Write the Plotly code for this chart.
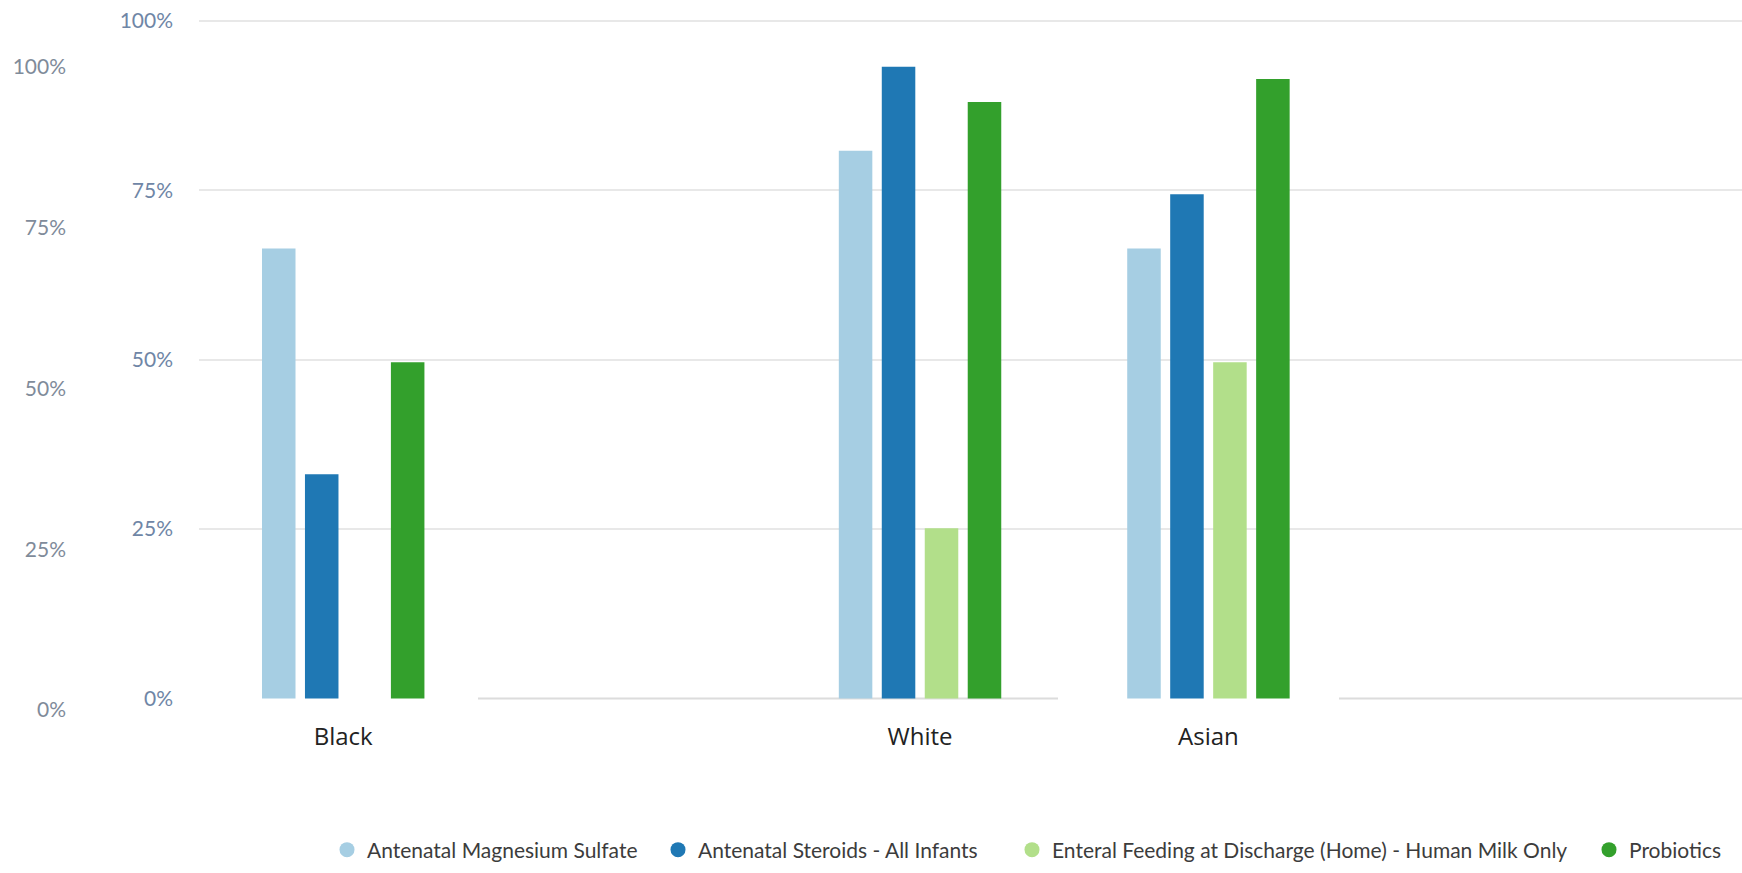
import plotly.graph_objects as go

# ---- data ----
categories = ["Black", " ", "White", "Asian"]
series_names = [
    "Antenatal Magnesium Sulfate",
    "Antenatal Steroids - All Infants",
    "Enteral Feeding at Discharge (Home) - Human Milk Only",
    "Probiotics",
]
mag_sulfate = [66.4, None, 80.8, 66.4]
steroids = [33.1, None, 93.2, 74.4]
enteral_milk = [None, None, 25.1, 49.6]
probiotics = [49.6, None, 88.0, 91.4]
series_values = [mag_sulfate, steroids, enteral_milk, probiotics]
colors = ["#a6cee3", "#1f78b4", "#b2df8a", "#33a02c"]
tick_values = [0, 25, 50, 75, 100]
tick_labels = ["0%", "25%", "50%", "75%", "100%"]

W, H = 1742, 873
TICKFONT = "Lato, sans-serif"

fig = go.Figure()
for name, vals, col in zip(series_names, series_values, colors):
    fig.add_trace(go.Bar(x=categories, y=vals, name=name, marker_color=col,
                         marker_line_width=0, showlegend=False))

# legend entries with circular symbols, one legend box per entry
legend_ids = ["legend", "legend2", "legend3", "legend4"]
legend_x_px = [327, 658, 1012, 1589]
for name, col, lid in zip(series_names, colors, legend_ids):
    fig.add_trace(go.Scatter(x=[None], y=[None], yaxis="y2", mode="markers", name=name,
                             legend=lid,
                             marker=dict(symbol="circle", size=15, color=col)))

legend_style = dict(orientation="h", xanchor="left", y=23 / H, yanchor="middle",
                    font=dict(family="Lato", size=21, color="#3c3c3c"),
                    itemwidth=30, bgcolor="rgba(0,0,0,0)")

layout_legends = {lid: dict(legend_style, x=px / W) for lid, px in zip(legend_ids, legend_x_px)}

fig.update_layout(
    width=W, height=H,
    margin=dict(l=0, r=0, t=0, b=0),
    paper_bgcolor="white", plot_bgcolor="white",
    barmode="group", bargap=0.404, bargroupgap=0.22,
    xaxis=dict(type="category", categoryorder="array", categoryarray=categories,
               range=[-0.5, 4.85], domain=[199 / W, 1], showgrid=False, showline=False,
               zeroline=False, ticks="", automargin=False,
               tickfont=dict(family="Open Sans", size=24, color="#222222")),
    yaxis=dict(domain=[(H - 720) / H, (H - 10) / H], range=[-3.172, 101.58],
               tickvals=tick_values, ticktext=tick_labels, showgrid=True,
               gridcolor="#e8e8e8", gridwidth=2, zeroline=True,
               zerolinecolor="rgba(0,0,0,0)", showline=False, ticks="",
               ticklabelstandoff=25, automargin=False,
               tickfont=dict(family=TICKFONT, size=21, color="#6f86a6")),
    yaxis2=dict(overlaying="y", anchor="free", position=66 / W, side="left",
                range=[-1.555, 108.86], tickvals=tick_values, ticktext=tick_labels,
                showgrid=False, zeroline=False, showline=False, ticks="",
                automargin=False,
                tickfont=dict(family=TICKFONT, size=21, color="#7f8b9a")),
    shapes=[
        dict(type="line", xref="paper", yref="y", x0=478 / W, x1=1058 / W, y0=0, y1=0,
             line=dict(color="#dcdcdc", width=2), layer="below"),
        dict(type="line", xref="paper", yref="y", x0=1339 / W, x1=1.0, y0=0, y1=0,
             line=dict(color="#dcdcdc", width=2), layer="below"),
    ],
    **layout_legends,
)

fig.write_html("out.html")
